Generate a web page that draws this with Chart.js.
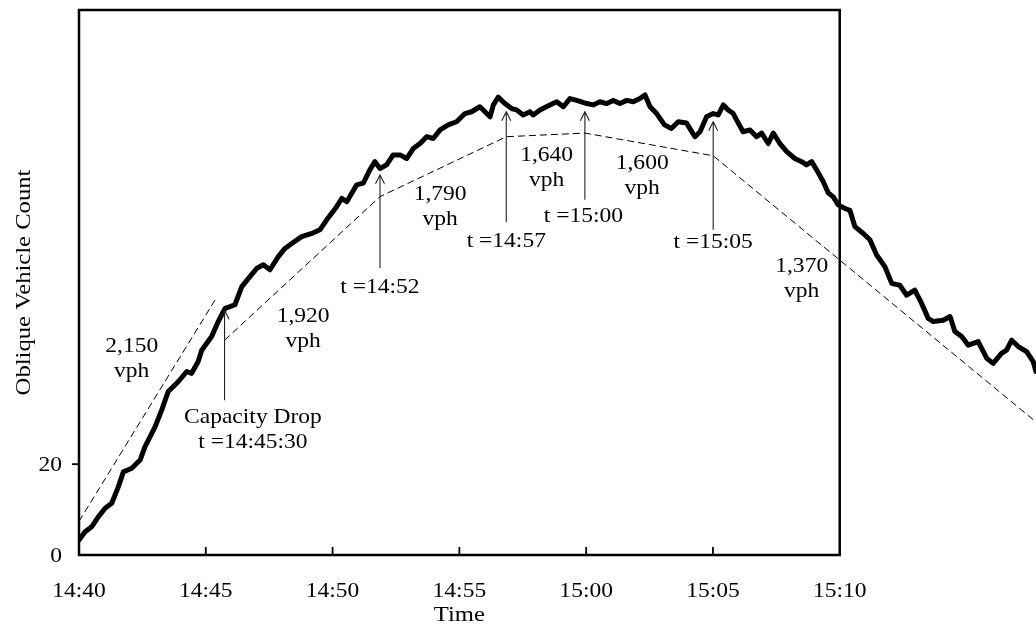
<!DOCTYPE html>
<html>
<head>
<meta charset="utf-8">
<script src="https://cdn.jsdelivr.net/npm/chart.js@4/dist/chart.umd.min.js"></script>
<style>
  body { margin: 0; background: #fff; }
  #wrap { width: 1036px; height: 628px; position: relative; }
</style>
</head>
<body>
<div id="wrap"><canvas id="countChart"></canvas></div>
<script>
// minutes after 14:40 and oblique count
const timeMin = [0, 0.24, 0.50, 0.76, 1.03, 1.29, 1.55, 1.75, 2.08, 2.41, 2.60, 3.00, 3.26, 3.52, 3.92, 4.25, 4.44, 4.70, 4.84, 5.23, 5.49, 5.76,
    6.15, 6.42, 6.74, 7.01, 7.27, 7.53, 7.86, 8.12, 8.39, 8.78, 9.18, 9.50, 9.77, 10.16, 10.36, 10.56, 10.95, 11.21, 11.47, 11.67,
    11.87, 12.13, 12.39, 12.66, 12.92, 13.18, 13.45, 13.71, 13.97, 14.24, 14.56, 14.89, 15.22, 15.48, 15.81, 16.01, 16.21, 16.34,
    16.53, 16.80, 17.06, 17.26, 17.52, 17.78, 17.91, 18.18, 18.57, 18.84, 19.10, 19.36, 19.63, 20.02, 20.28, 20.54, 20.81, 21.07,
    21.33, 21.60, 21.86, 22.12, 22.32, 22.52, 22.78, 23.09, 23.36, 23.63, 23.96, 24.29, 24.49, 24.75, 25.01, 25.21, 25.41, 25.60,
    25.80, 26.00, 26.19, 26.46, 26.72, 26.92, 27.18, 27.38, 27.64, 27.91, 28.23, 28.50, 28.69, 28.89, 29.09, 29.35, 29.55, 29.74,
    29.94, 30.21, 30.40, 30.60, 30.93, 31.19, 31.45, 31.78, 32.05, 32.37, 32.64, 32.96, 33.23, 33.49, 33.69, 34.08, 34.35, 34.54,
    34.81, 35.07, 35.46, 35.80, 36.05, 36.38, 36.58, 36.78, 37.04, 37.37, 37.63, 37.74];
const obliqueCount = [3.3, 5.1, 6.2, 8.4, 10.3, 11.4, 15.0, 18.3, 19.1, 20.9, 23.8, 28.2, 31.9, 36.0, 38.2, 40.4, 40.0, 42.6, 45.1, 48.1, 51.4, 54.3,
    55.1, 59.1, 61.3, 63.1, 63.9, 62.8, 65.7, 67.5, 68.6, 70.1, 70.8, 71.6, 73.8, 76.7, 78.5, 77.8, 81.5, 81.9, 84.8, 86.6,
    85.1, 85.9, 88.1, 88.1, 87.3, 89.5, 90.6, 92.1, 91.7, 93.6, 94.7, 95.4, 97.2, 97.6, 98.7, 97.6, 96.5, 99.1,
    100.8, 99.4, 98.3, 98.0, 96.9, 97.6, 96.9, 98.0, 99.1, 99.8, 98.7, 100.5, 100.1, 99.4, 99.1, 99.8, 99.4, 100.1,
    99.4, 100.1, 99.8, 100.5, 101.3, 98.7, 97.2, 94.7, 93.9, 95.4, 95.1, 92.1, 93.2, 96.5, 97.2, 96.9, 99.1, 98.0,
    97.2, 95.1, 93.2, 93.6, 92.1, 92.9, 90.6, 92.9, 90.6, 88.8, 87.3, 86.6, 85.9, 86.6, 84.8, 82.2, 79.7, 78.9,
    77.1, 76.3, 75.9, 72.3, 70.8, 69.4, 66.1, 63.5, 59.8, 59.4, 57.2, 58.3, 55.4, 52.1, 51.4, 51.7, 52.5, 49.2,
    48.1, 46.2, 47.0, 43.3, 42.2, 44.4, 45.1, 47.3, 45.9, 44.8, 42.6, 40.4];

// dashed flow-rate lines
const preDropTime = [0, 5.36];
const preDropCount = [7.4, 56.1];
const fitTime = [5.74, 11.87, 16.85, 19.95, 25.01, 37.74];
const fitCount = [47.3, 78.9, 92.1, 92.9, 87.9, 29.3];

const rateLabels = ['2,150', '1,920', '1,790', '1,640', '1,600', '1,370'];
const eventLabels = [['Capacity Drop', 't =14:45:30'], ['t =14:52'], ['t =14:57'], ['t =15:00'], ['t =15:05']];

const xTicks = [0, 5, 10, 15, 20, 25, 30];
const xTickLabels = ['14:40', '14:45', '14:50', '14:55', '15:00', '15:05', '15:10'];
const yTicks = [0, 20];
const yTickLabels = ['0', '20'];

// where the notes sit (data units)
const rateSpots = [[2.08, 45.9], [8.84, 52.6], [14.24, 79.3], [18.44, 87.9], [22.21, 86.1], [28.50, 63.6]];
const arrows = [
    { x: 5.74, from: 34.1, to: 53.9, lx: 6.86, ly: 30.2 },
    { x: 11.87, from: 63.2, to: 83.7, lx: 11.87, ly: 58.8 },
    { x: 16.85, from: 73.3, to: 97.6, lx: 16.85, ly: 69.1 },
    { x: 19.95, from: 78.2, to: 97.6, lx: 19.89, ly: 74.6 },
    { x: 25.01, from: 71.6, to: 95.4, lx: 25.01, ly: 68.9 }
];

const FONT = '"Liberation Serif", "Times New Roman", serif';
const SX = 1.12; // the source text is drawn a little wide

function pts(xs, ys) {
    return xs.map((x, i) => ({ x: x, y: ys[i] }));
}

function wideText(ctx, s, x, y, align) {
    ctx.save();
    ctx.translate(x, y);
    ctx.scale(SX, 1);
    ctx.textAlign = align;
    ctx.fillText(s, 0, 0);
    ctx.restore();
}

const decor = {
    id: 'decor',
    beforeDatasetsDraw(chart) {
        const ctx = chart.ctx;
        const xs = chart.scales.x, ys = chart.scales.y;
        const l = xs.getPixelForValue(0), r = xs.getPixelForValue(30);
        const t = ys.getPixelForValue(120), b = ys.getPixelForValue(0);
        ctx.save();
        ctx.strokeStyle = '#000';
        ctx.lineWidth = 2.5;
        ctx.strokeRect(l, t, r - l, b - t);
        ctx.lineWidth = 1.8;
        xTicks.forEach(v => {
            if (v === 0 || v === 30) return;
            const px = xs.getPixelForValue(v);
            ctx.beginPath(); ctx.moveTo(px, b); ctx.lineTo(px, b - 8); ctx.stroke();
        });
        yTicks.forEach(v => {
            if (v === 0) return;
            const py = ys.getPixelForValue(v);
            ctx.beginPath(); ctx.moveTo(l, py); ctx.lineTo(l - 7, py); ctx.stroke();
        });
        ctx.restore();
    },
    afterDatasetsDraw(chart) {
        const ctx = chart.ctx;
        const xs = chart.scales.x, ys = chart.scales.y;
        const l = xs.getPixelForValue(0), r = xs.getPixelForValue(30);
        const b = ys.getPixelForValue(0);
        ctx.save();
        ctx.fillStyle = '#000';

        // tick labels
        ctx.font = '21px ' + FONT;
        ctx.textBaseline = 'alphabetic';
        xTicks.forEach((v, i) => wideText(ctx, xTickLabels[i], xs.getPixelForValue(v), 597, 'center'));
        ctx.textBaseline = 'middle';
        yTicks.forEach((v, i) => wideText(ctx, yTickLabels[i], l - 17, ys.getPixelForValue(v) + 1, 'right'));

        // axis titles
        ctx.font = '22px ' + FONT;
        ctx.textBaseline = 'alphabetic';
        wideText(ctx, 'Time', (l + r) / 2, 621, 'center');
        ctx.save();
        ctx.translate(30, (ys.getPixelForValue(120) + b) / 2);
        ctx.rotate(-Math.PI / 2);
        ctx.scale(SX, 1);
        ctx.textAlign = 'center';
        ctx.fillText('Oblique Vehicle Count', 0, 0);
        ctx.restore();

        // arrows
        ctx.strokeStyle = '#222';
        ctx.lineWidth = 1.1;
        arrows.forEach(a => {
            const px = xs.getPixelForValue(a.x);
            const y0 = ys.getPixelForValue(a.from), y1 = ys.getPixelForValue(a.to);
            ctx.beginPath();
            ctx.moveTo(px, y0); ctx.lineTo(px, y1);
            ctx.moveTo(px - 4.5, y1 + 9); ctx.lineTo(px, y1); ctx.lineTo(px + 4.5, y1 + 9);
            ctx.stroke();
        });

        // notes
        ctx.font = '21px ' + FONT;
        ctx.textBaseline = 'middle';
        rateSpots.forEach((p, i) => {
            const px = xs.getPixelForValue(p[0]), py = ys.getPixelForValue(p[1]);
            wideText(ctx, rateLabels[i], px, py, 'center');
            wideText(ctx, 'vph', px, py + 25, 'center');
        });
        arrows.forEach((a, i) => {
            const px = xs.getPixelForValue(a.lx), py = ys.getPixelForValue(a.ly);
            eventLabels[i].forEach((s, k) => wideText(ctx, s, px, py + k * 25, 'center'));
        });
        ctx.restore();
    }
};

new Chart(document.getElementById('countChart').getContext('2d'), {
    type: 'line',
    data: {
        datasets: [{
            label: 'Oblique count',
            data: pts(timeMin, obliqueCount),
            borderColor: '#000',
            borderWidth: 5,
            pointRadius: 0,
            tension: 0,
            borderJoinStyle: 'round',
            borderCapStyle: 'round'
        }, {
            label: '2,150 vph',
            data: pts(preDropTime, preDropCount),
            borderColor: '#000',
            borderWidth: 1,
            borderDash: [7, 4],
            pointRadius: 0
        }, {
            label: 'Discharge rates',
            data: pts(fitTime, fitCount),
            borderColor: '#000',
            borderWidth: 1,
            borderDash: [7, 4],
            pointRadius: 0
        }]
    },
    options: {
        responsive: true,
        maintainAspectRatio: false,
        animation: false,
        layout: { padding: { left: 79, right: 0, top: 10, bottom: 73 } },
        scales: {
            x: { type: 'linear', min: 0, max: 37.74, display: false },
            y: { min: 0, max: 120, display: false }
        },
        plugins: {
            legend: { display: false },
            tooltip: { enabled: false }
        }
    },
    plugins: [decor]
});
</script>
</body>
</html>
